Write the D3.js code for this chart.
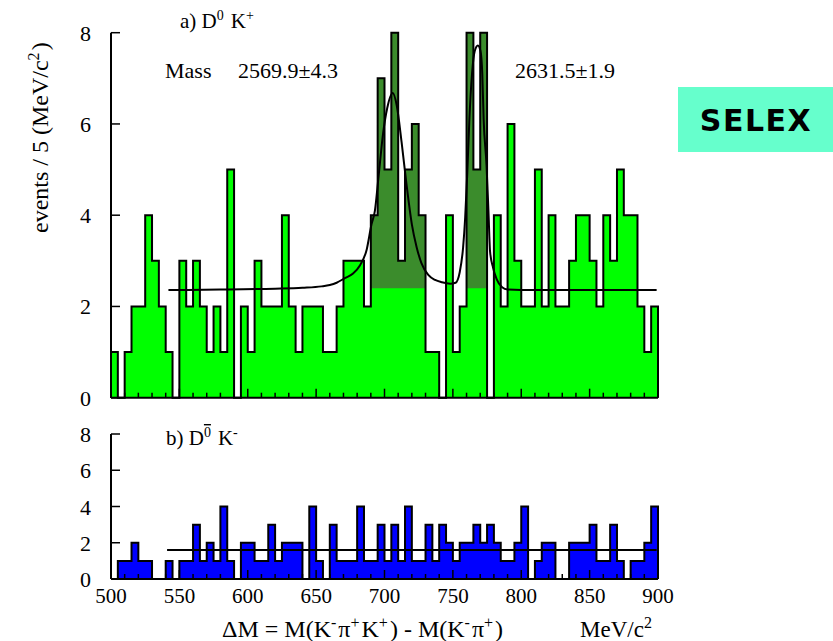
<!DOCTYPE html>
<html><head><meta charset="utf-8">
<script src="https://cdn.jsdelivr.net/npm/d3@7"></script>
<style>
html,body{margin:0;padding:0;background:#fff;}
svg{display:block;}
text{font-family:"Liberation Serif","Times New Roman",serif;fill:#000;}
</style></head><body>
<svg id="chart" width="833" height="641"></svg>
<script>
// ΔM bins, 5 MeV/c^2 wide, lower edges from 500 to 895
const binLow = d3.range(500, 900, 5);

// a) D0 K+ events per bin
const countsDK = [
  1,0,1,2,2,4,3,2,1,0,
  3,2,3,2,1,2,1,5,0,2,
  1,3,2,2,2,4,2,1,2,2,
  2,1,1,2,3,3,3,2,4,7,
  5,8,3,5,6,4,1,1,0,4,
  1,2,8,5,8,0,4,2,6,3,
  2,2,5,2,4,2,2,3,4,4,
  3,2,4,3,5,4,4,2,1,2
];

// b) anti-D0 K- events per bin
const countsDbarK = [
  0,1,1,2,1,1,0,0,1,0,
  1,1,3,1,2,1,4,1,0,2,
  2,1,1,3,1,2,2,2,0,4,
  1,0,3,1,1,1,4,1,1,3,
  1,3,1,4,1,1,3,1,3,2,
  1,2,2,3,2,3,2,1,1,2,
  4,0,1,2,2,0,0,2,2,2,
  3,1,1,3,1,0,1,1,2,4
];

// signal windows (ΔM ranges) shaded above the background level
const peakWindows = [[690, 730], [760, 775]];
const signalFloor = 2.4;

// fitted curve for D0 K+ : background plus two peaks
const fitMass  = [542, 580, 620, 640, 654, 660, 665, 671, 677, 682, 687, 690.5, 693, 695.5, 699, 702, 706, 709, 712.5, 716, 720, 723.5, 727, 732, 737, 742, 748, 752, 755, 757.5, 759, 760.5, 762, 764, 766, 768.3, 770.2, 771.5, 772.5, 774.6, 776, 777.2, 779.4, 782, 786, 790, 800, 899];
const fitValue = [2.36, 2.37, 2.39, 2.41, 2.44, 2.47, 2.52, 2.62, 2.72, 2.90, 3.25, 3.8, 4.1, 4.8, 5.8, 6.35, 6.68, 6.4, 5.6, 4.7, 3.8, 3.3, 2.95, 2.69, 2.58, 2.53, 2.50, 2.52, 2.75, 3.3, 3.95, 4.9, 6.05, 7.1, 7.6, 7.72, 7.6, 7.1, 6.1, 5.1, 4.1, 3.2, 2.85, 2.6, 2.42, 2.37, 2.36, 2.36];

// flat background fit for anti-D0 K-
const fitMassB  = [541, 899];
const fitValueB = [1.6, 1.6];

const massLabels = ["Mass", "2569.9±4.3", "2631.5±1.9"];
const xTicks = [500, 550, 600, 650, 700, 750, 800, 850, 900];
const xMinor = d3.range(500, 901, 10);
const yTicks = [0, 2, 4, 6, 8];

const svg = d3.select("#chart");
const W = 5;

const x = d3.scaleLinear().domain([500, 900]).range([111, 658]);
const yTop = d3.scaleLinear().domain([0, 8]).range([397.7, 32.7]);
const yBot = d3.scaleLinear().domain([0, 8]).range([579, 434]);

function drawPanel(counts, y, fill, opts) {
  const g = svg.append("g");
  const pts = binLow.map((m, i) => ({m, c: counts[i]}));
  pts.push({m: 900, c: counts[counts.length - 1]});

  // filled histogram
  g.append("path")
    .attr("d", d3.area().curve(d3.curveStepAfter)
      .x(d => x(d.m)).y0(y(0)).y1(d => y(d.c))(pts))
    .attr("fill", fill);

  // darker signal region inside the peak windows
  if (opts.windows) {
    opts.windows.forEach(w => {
      const seg = binLow.map((m, i) => ({m, c: counts[i]}))
        .filter(d => d.m >= w[0] && d.m + W <= w[1]);
      seg.push({m: w[1], c: seg[seg.length - 1].c});
      g.append("path")
        .attr("d", d3.area().curve(d3.curveStepAfter)
          .x(d => x(d.m)).y0(y(opts.floor)).y1(d => y(Math.max(d.c, opts.floor)))(seg))
        .attr("fill", "#3b8c2c");
    });
  }

  // histogram outline
  const outline = [{m: 500, c: 0}].concat(pts, [{m: 900, c: 0}]);
  g.append("path")
    .attr("d", d3.line().curve(d3.curveStepAfter).x(d => x(d.m)).y(d => y(d.c))(outline))
    .attr("fill", "none").attr("stroke", "#000").attr("stroke-width", 2);

  // fit curve
  g.append("path")
    .attr("d", d3.line().curve(d3.curveMonotoneX)
      .x((d, i) => x(opts.fitM[i])).y(d => y(d))(opts.fitV))
    .attr("fill", "none").attr("stroke", "#000").attr("stroke-width", 2);

  // bottom axis with inward ticks
  const base = y(0);
  g.append("line").attr("x1", x(500)).attr("x2", x(900)).attr("y1", base).attr("y2", base)
    .attr("stroke", "#000").attr("stroke-width", 2);
  g.selectAll("line.minor").data(xMinor).enter().append("line")
    .attr("x1", d => x(d)).attr("x2", d => x(d))
    .attr("y1", base).attr("y2", d => base - (d % 50 === 0 ? 9 : 5))
    .attr("stroke", "#000").attr("stroke-width", 1.5);

  // left axis
  g.append("line").attr("x1", x(500)).attr("x2", x(500)).attr("y1", y(0)).attr("y2", y(8))
    .attr("stroke", "#000").attr("stroke-width", 2);
  g.selectAll("line.ytick").data(yTicks).enter().append("line")
    .attr("x1", x(500)).attr("x2", x(500) + 9)
    .attr("y1", d => y(d)).attr("y2", d => y(d))
    .attr("stroke", "#000").attr("stroke-width", 1.5);
  g.selectAll("text.ylab").data(yTicks).enter().append("text")
    .attr("x", 91).attr("y", d => y(d) + 8)
    .attr("text-anchor", "end").attr("font-size", 22).text(d => d);
}

drawPanel(countsDK, yTop, "#00ff00",
  {windows: peakWindows, floor: signalFloor, fitM: fitMass, fitV: fitValue});
drawPanel(countsDbarK, yBot, "#0000ff", {fitM: fitMassB, fitV: fitValueB});

// x tick labels
svg.selectAll("text.xlab").data(xTicks).enter().append("text")
  .attr("x", d => x(d)).attr("y", 603).attr("text-anchor", "middle")
  .attr("font-size", 21).text(d => d);

// small helper for text with raised superscripts
function richText(parent, parts, size, supSize) {
  parts.forEach(p => {
    if (p.sup) {
      parent.append("tspan").attr("dy", -Math.round(size * 0.38)).attr("font-size", supSize)
        .style("text-decoration", p.bar ? "overline" : null).text(p.sup);
      parent.append("tspan").attr("dy", Math.round(size * 0.38)).attr("font-size", size).text("\u200a");
    } else {
      parent.append("tspan").attr("font-size", size).text(p.t);
    }
  });
}

// panel labels
richText(svg.append("text").attr("x", 180).attr("y", 28),
  [{t: "a) D"}, {sup: "0"}, {t: " K"}, {sup: "+"}], 21, 14);
richText(svg.append("text").attr("x", 166).attr("y", 445),
  [{t: "b) D"}, {sup: "0", bar: true}, {t: " K"}, {sup: "-"}], 21, 14);

svg.append("text").attr("x", 165).attr("y", 78).attr("font-size", 22).text(massLabels[0]);
svg.append("text").attr("x", 238).attr("y", 78).attr("font-size", 22).text(massLabels[1]);
svg.append("text").attr("x", 515).attr("y", 78).attr("font-size", 22).text(massLabels[2]);

// y axis title
richText(svg.append("text").attr("transform", "translate(48,233) rotate(-90)"),
  [{t: "events / 5 (MeV/c"}, {sup: "2"}, {t: ")"}], 24, 16);

// x axis title
richText(svg.append("text").attr("x", 222).attr("y", 637),
  [{t: "ΔM = M(K"}, {sup: "-"}, {t: "π"}, {sup: "+"}, {t: "K"}, {sup: "+"},
   {t: ") - M(K"}, {sup: "-"}, {t: "π"}, {sup: "+"}, {t: ")"}], 24, 16);
richText(svg.append("text").attr("x", 580).attr("y", 637),
  [{t: "MeV/c"}, {sup: "2"}], 23, 16);

// experiment tag
svg.append("rect").attr("x", 678).attr("y", 87).attr("width", 155).attr("height", 65).attr("fill", "#66ffcc");
svg.append("text").attr("x", 756).attr("y", 131).attr("text-anchor", "middle")
  .attr("font-weight", "bold").attr("font-size", 30).attr("letter-spacing", 1.5)
  .style("font-family", "'DejaVu Sans', sans-serif").text("SELEX");
</script>
</body></html>
